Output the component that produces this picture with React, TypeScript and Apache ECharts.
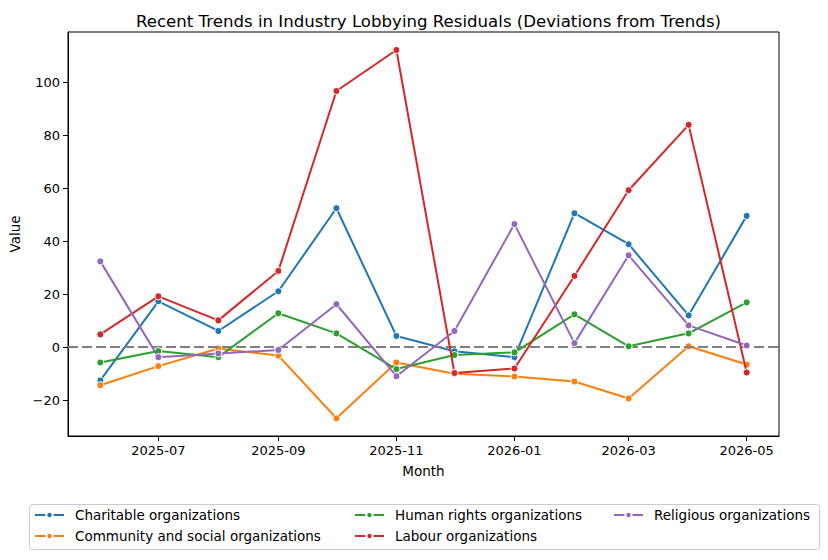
import React, { useEffect, useRef } from "react";
import * as echarts from "echarts";

// Monthly residuals (deviation from trend) per lobbying industry
const months = [
  "2025-06", "2025-07", "2025-08", "2025-09", "2025-10", "2025-11",
  "2025-12", "2026-01", "2026-02", "2026-03", "2026-04", "2026-05",
];

const charitable = [-12.6, 17.3, 6.1, 21.1, 52.5, 4.2, -1.6, -3.8, 50.6, 38.9, 12.0, 49.6];
const community = [-14.4, -7.2, -0.5, -3.2, -26.9, -5.8, -10.1, -11.1, -13.0, -19.4, 0.3, -6.6];
const humanRights = [-5.8, -1.5, -3.8, 12.8, 5.2, -8.3, -3.0, -2.0, 12.4, 0.3, 5.2, 16.9];
const labour = [4.8, 19.2, 10.1, 28.8, 96.8, 112.3, -9.8, -8.1, 26.9, 59.3, 84.0, -9.6];
const religious = [32.4, -3.8, -2.4, -1.1, 16.2, -11.0, 6.1, 46.5, 1.5, 34.7, 8.2, 0.6];

const seriesNames = [
  "Charitable organizations",
  "Community and social organizations",
  "Human rights organizations",
  "Labour organizations",
  "Religious organizations",
];
const seriesValues = [charitable, community, humanRights, labour, religious];
const palette = ["#1f77b4", "#ff7f0e", "#2ca02c", "#d62728", "#9467bd"];

const xTickLabels = ["2025-07", "2025-09", "2025-11", "2026-01", "2026-03", "2026-05"];
const yTickLabels = [-20, 0, 20, 40, 60, 80, 100];

const FONT = "DejaVu Sans";

const toTs = (ym: string) => {
  const [y, m] = ym.split("-").map(Number);
  return Date.UTC(y, m - 1, 1);
};

const fmtMonth = (v: number) => {
  const d = new Date(v);
  const mm = String(d.getUTCMonth() + 1).padStart(2, "0");
  return `${d.getUTCFullYear()}-${mm}`;
};

export default function App() {
  const ref = useRef<HTMLDivElement>(null);

  useEffect(() => {
    document.body.style.margin = "0";
    if (!ref.current) return;
    const chart = echarts.init(ref.current, undefined, { renderer: "svg" });

    const xs = months.map(toTs);
    const first = xs[0];
    const last = xs[xs.length - 1];
    const pad = (last - first) * 0.05;

    const series: any[] = seriesNames.map((name, i) => ({
      name,
      type: "line",
      data: seriesValues[i].map((v, j) => [xs[j], v]),
      symbol: "circle",
      symbolSize: 7,
      showSymbol: true,
      color: palette[i],
      lineStyle: { width: 2, color: palette[i] },
      itemStyle: { color: palette[i], borderColor: "#ffffff", borderWidth: 1 },
      emphasis: { disabled: true },
      z: 3 + i,
    }));

    // zero reference line
    series.push({
      type: "line",
      data: [],
      silent: true,
      z: 20,
      markLine: {
        silent: true,
        symbol: "none",
        label: { show: false },
        lineStyle: { color: "#808080", width: 2, type: [10, 4] },
        data: [{ yAxis: 0 }],
      },
    });

    const legendCommon = {
      orient: "vertical",
      top: 508,
      height: 50,
      itemWidth: 29,
      itemHeight: 8,
      itemGap: 7,
      padding: 0,
      textStyle: { fontFamily: FONT, fontSize: 13.5, color: "#000", padding: [0, 0, 0, 6] },
      z: 10,
    };

    chart.setOption({
      animation: false,
      textStyle: { fontFamily: FONT },
      title: {
        text: "Recent Trends in Industry Lobbying Residuals (Deviations from Trends)",
        left: 423.5,
        top: 8,
        textAlign: "center",
        textStyle: { fontFamily: FONT, fontSize: 16.6, fontWeight: "normal", color: "#000" },
      },
      grid: {
        left: 68,
        top: 32,
        width: 711,
        height: 404,
        show: true,
        borderColor: "#000",
        borderWidth: 1,
        backgroundColor: "#fff",
        containLabel: false,
        outerBoundsMode: "none",
      },
      xAxis: {
        type: "value",
        min: first - pad,
        max: last + pad,
        name: "Month",
        nameLocation: "middle",
        nameGap: 28,
        nameTextStyle: { fontFamily: FONT, fontSize: 13.5, color: "#000" },
        axisLine: { show: true, onZero: false, lineStyle: { color: "#000", width: 1 } },
        axisTick: {
          show: true,
          length: 5,
          customValues: xTickLabels.map(toTs),
          lineStyle: { color: "#000" },
        },
        axisLabel: {
          customValues: xTickLabels.map(toTs),
          formatter: (v: number) => fmtMonth(v),
          fontFamily: FONT,
          fontSize: 13,
          color: "#000",
          margin: 8,
        },
        splitLine: { show: false },
      },
      yAxis: {
        type: "value",
        min: -33.6,
        max: 119.1,
        name: "Value",
        nameLocation: "middle",
        nameGap: 45,
        nameRotate: 90,
        nameTextStyle: { fontFamily: FONT, fontSize: 13.5, color: "#000" },
        axisLine: { show: true, onZero: false, lineStyle: { color: "#000", width: 1 } },
        axisTick: {
          show: true,
          length: 5,
          customValues: yTickLabels,
          lineStyle: { color: "#000" },
        },
        axisLabel: {
          customValues: yTickLabels,
          formatter: (v: number) => String(v).replace("-", "\u2212"),
          fontFamily: FONT,
          fontSize: 13,
          color: "#000",
          margin: 8,
        },
        splitLine: { show: false },
      },
      legend: [
        { ...legendCommon, left: 34, data: [seriesNames[0], seriesNames[1]] },
        { ...legendCommon, left: 354, data: [seriesNames[2], seriesNames[3]] },
        { ...legendCommon, left: 613, data: [seriesNames[4]] },
      ],
      graphic: [
        {
          type: "rect",
          left: 29,
          top: 504,
          shape: { width: 790, height: 45, r: 3 },
          style: { fill: "#fff", stroke: "#cccccc", lineWidth: 1 },
          z: 0,
        },
      ],
      series,
    });

    return () => chart.dispose();
  }, []);

  return <div ref={ref} style={{ width: 828, height: 560 }} />;
}
